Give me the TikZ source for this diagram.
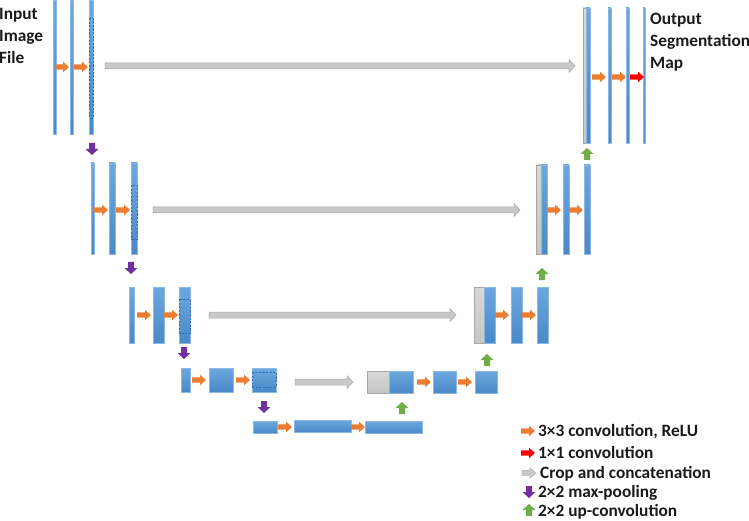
\documentclass[tikz,border=0pt]{standalone}
\usepackage{fontspec}
\setmainfont{Carlito}
\usetikzlibrary{fit}
\definecolor{bartop}{HTML}{6CA8DF}
\definecolor{barbot}{HTML}{4A89C8}
\definecolor{barline}{HTML}{8DB8E3}
\definecolor{dashc}{HTML}{2F70B0}
\definecolor{graytop}{HTML}{D8D8D8}
\definecolor{graybot}{HTML}{C6C6C6}
\definecolor{grayline}{HTML}{A6A6A6}
\definecolor{garrfill}{HTML}{C9C9C9}
\definecolor{orangec}{HTML}{ED7D31}
\definecolor{redc}{HTML}{FF0000}
\definecolor{purplec}{HTML}{7030A0}
\definecolor{greenc}{HTML}{70AD47}
\definecolor{txt}{HTML}{1A1A1A}
\newcommand\unetbox[6]{\node[#1, fit={(#3,#4) (#5,#6)}] (#2) {};}
\newcommand\skiparrow[4]{\filldraw[garr] (#2,#4-3) -- (#3-6,#4-3) -- (#3-6,#4-6.5) -- (#3,#4) -- (#3-6,#4+6.5) -- (#3-6,#4+3) -- (#2,#4+3) -- cycle; \coordinate (#1) at (#3,#4);}
\tikzset{
  bluebar/.style={inner sep=0pt, outer sep=0pt, draw=barline, line width=0.5pt, top color=bartop, bottom color=barbot},
  graybar/.style={inner sep=0pt, outer sep=0pt, draw=grayline, line width=0.5pt, top color=graytop, bottom color=graybot},
  dashline/.style={draw=dashc, line width=0.6pt, dash pattern=on 2.2pt off 1.4pt},
  garr/.style={fill=garrfill, draw=grayline, line width=0.5pt},
  lbl/.style={anchor=base west, inner sep=0pt, text=txt, font=\fontsize{17.3}{20}\selectfont\bfseries},
  pics/harr/.style={code={\fill[#1] (-7,-2.7) -- (1,-2.7) -- (1,-5.3) -- (7,0) -- (1,5.3) -- (1,2.7) -- (-7,2.7) -- cycle;}},
  pics/varr/.style={code={\fill[#1] (-6,-3) -- (0,-3) -- (0,-6.5) -- (6,0) -- (0,6.5) -- (0,3) -- (-6,3) -- cycle;}},
}
\begin{document}
\begin{tikzpicture}[x=1pt,y=-1pt]
\useasboundingbox[fill=white] (0,0) rectangle (749,521);
% ---------- contracting path ----------
\unetbox{bluebar}{a1}{53}{0}{56}{134}
\unetbox{bluebar}{a2}{70}{0}{73}{134}
\unetbox{bluebar}{a3}{89}{0}{93}{134}
\draw[dashline] (89.6,18) rectangle (93,118);
\unetbox{bluebar}{b1}{91}{163}{94}{254}
\unetbox{bluebar}{b2}{109}{163}{115}{254}
\unetbox{bluebar}{b3}{131}{163}{137}{254}
\draw[dashline] (131.6,185) rectangle (137,239);
\unetbox{bluebar}{c1}{129}{287}{134}{343}
\unetbox{bluebar}{c2}{153}{287}{164}{343}
\unetbox{bluebar}{c3}{179}{287}{190}{343}
\draw[dashline] (179.6,299) rectangle (190,333);
\unetbox{bluebar}{d1}{181}{368}{190}{392}
\unetbox{bluebar}{d2}{209}{368}{233}{392}
\unetbox{bluebar}{d3}{252}{368}{276}{392}
\draw[dashline] (252.6,372) rectangle (276,387);
\unetbox{bluebar}{e1}{253}{421}{277}{433}
\unetbox{bluebar}{e2}{294}{420}{351}{432}
\unetbox{bluebar}{e3}{365}{421}{422}{433}
% ---------- expanding path ----------
\unetbox{graybar}{f0}{367}{371}{389}{393}
\unetbox{bluebar}{f1}{389}{371}{413}{393}
\unetbox{bluebar}{f2}{433}{371}{456}{393}
\unetbox{bluebar}{f3}{475}{371}{497}{393}
\unetbox{graybar}{g0}{474}{287}{484}{343}
\unetbox{bluebar}{g1}{484}{287}{495}{343}
\unetbox{bluebar}{g2}{511}{287}{522}{343}
\unetbox{bluebar}{g3}{537}{287}{548}{343}
\unetbox{graybar}{h0}{536}{165}{541}{254}
\unetbox{bluebar}{h1}{541}{165}{547}{254}
\unetbox{bluebar}{h2}{563}{165}{569}{254}
\unetbox{bluebar}{h3}{584}{165}{590}{254}
\unetbox{graybar}{i0}{583}{8}{586}{143}
\unetbox{bluebar}{i1}{586}{8}{590}{143}
\unetbox{bluebar}{i2}{608}{8}{611}{143}
\unetbox{bluebar}{i3}{626}{8}{629}{143}
\unetbox{bluebar}{i4}{643}{8}{645}{143}
% ---------- skip connections ----------
\skiparrow{s1}{105}{575}{66}
\skiparrow{s2}{153}{520}{210}
\skiparrow{s3}{209}{456}{315}
\skiparrow{s4}{295}{353}{382}
% ---------- convolution arrows ----------
\foreach \p in {(62,67),(81,67),(101,210),(123,210),(144,315),(171,315),(199,380),(243,380),(285,427),(358,427),(424,382),(465,382),(502,315),(529,315),(554,210),(576,210),(599,77),(619,77)}
  \pic at \p {harr=orangec};
\pic at (637,77) {harr=redc};
% ---------- pooling / up-convolution ----------
\foreach \p in {(92,149),(131,268),(184,353),(264,407)}
  \pic[rotate=-90] at \p {varr=purplec};
\foreach \p in {(402,408),(487,360),(542,274),(587,154)}
  \pic[rotate=90] at \p {varr=greenc};
% ---------- labels ----------
\node[lbl] (in1) at (-1,20) {Input};
\node[lbl] (in2) at (-1,42) {Image};
\node[lbl] (in3) at (-1,64) {File};
\node[lbl] (out1) at (650,25) {Output};
\node[lbl] (out2) at (650,47) {Segmentation};
\node[lbl] (out3) at (650,69) {Map};
% ---------- legend ----------
\pic at (528,431) {harr=orangec};
\pic at (528,453) {harr=redc};
\pic at (529,473) {harr={garrfill,draw=grayline,line width=0.4pt}};
\pic[rotate=-90] at (529,492) {varr=purplec};
\pic[rotate=90] at (529,510) {varr=greenc};
\node[lbl] (l1) at (538,436) {3×3 convolution, ReLU};
\node[lbl] (l2) at (538,458) {1×1 convolution};
\node[lbl] (l3) at (540,478) {Crop and concatenation};
\node[lbl] (l4) at (538,497) {2×2 max-pooling};
\node[lbl] (l5) at (538,516) {2×2 up-convolution};
\end{tikzpicture}
\end{document}
